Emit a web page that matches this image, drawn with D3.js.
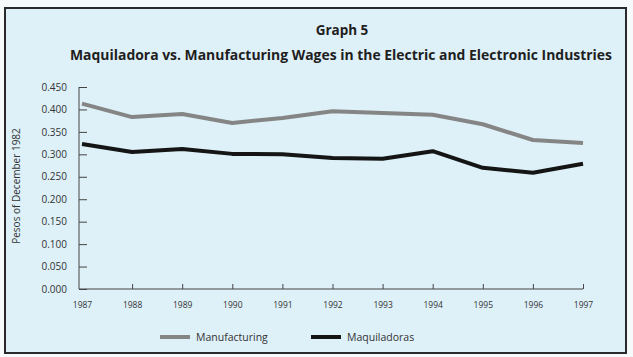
<!DOCTYPE html>
<html><head><meta charset="utf-8">
<script src="https://cdn.jsdelivr.net/npm/d3@7"></script>
<style>
html,body{margin:0;padding:0;background:#f6fafb;}
svg{display:block;}
</style></head>
<body>
<svg id="chart" width="633" height="357"></svg>
<script>
const years = [1987,1988,1989,1990,1991,1992,1993,1994,1995,1996,1997];
const manufacturing = [0.413,0.383,0.390,0.370,0.381,0.396,0.392,0.388,0.367,0.332,0.325];
const maquiladoras = [0.323,0.305,0.312,0.301,0.300,0.292,0.290,0.307,0.270,0.259,0.279];
const yTicks = [0,0.05,0.1,0.15,0.2,0.25,0.3,0.35,0.4,0.45];
const seriesNames = ["Manufacturing","Maquiladoras"];
const seriesColors = ["#858585","#151515"];
const titleText = "Graph 5";
const subtitleText = "Maquiladora vs. Manufacturing Wages in the Electric and Electronic Industries";
const yLabel = "Pesos of December 1982";

const svg = d3.select("#chart");
const font = "'Open Sans', 'Noto Sans', sans-serif";

// panel
svg.append("rect").attr("x",5).attr("y",8).attr("width",621).attr("height",345)
  .attr("fill","#def0f8").attr("stroke","#2a2a2a").attr("stroke-width",2);

svg.append("text").attr("x",342).attr("y",35).attr("text-anchor","middle")
  .attr("font-family",font).attr("font-weight",700).attr("font-size",13.5).attr("fill","#1e1e1e").text(titleText);
svg.append("text").attr("x",341).attr("y",60).attr("text-anchor","middle")
  .attr("font-family",font).attr("font-weight",700).attr("font-size",13.5).attr("fill","#1e1e1e")
  .attr("textLength",542).attr("lengthAdjust","spacingAndGlyphs").text(subtitleText);

const x = d3.scaleLinear().domain([1987,1997]).range([82,583]);
const y = d3.scaleLinear().domain([0,0.45]).range([289,87]);
const axisX0 = 79;

// y axis
const yAxis = d3.axisLeft(y).tickValues(yTicks).tickFormat(d3.format(".3f")).tickSize(-8).tickPadding(12);
const gy = svg.append("g").attr("transform",`translate(${axisX0},0)`).call(yAxis);
gy.select(".domain").attr("d",`M0,${y(0.45)}V${y(0)}`).attr("stroke","#444");
gy.selectAll(".tick line").attr("stroke","#444");
gy.selectAll(".tick text").attr("font-family",font).attr("font-size",10).attr("fill","#333");

// x axis
const xAxis = d3.axisBottom(x).tickValues(years).tickFormat(d3.format("d")).tickSize(-5).tickPadding(13);
const gx = svg.append("g").attr("transform",`translate(0,${y(0)})`).call(xAxis);
gx.select(".domain").attr("d",`M${axisX0},0H${x(1997)}`).attr("stroke","#444");
gx.selectAll(".tick line").attr("stroke","#444");
gx.selectAll(".tick").filter(d=>d===1987).select("line").remove();
gx.selectAll(".tick text").attr("font-family",font).attr("font-size",8.5).attr("fill","#333");

svg.append("text").attr("transform","translate(20,186) rotate(-90)").attr("text-anchor","middle")
  .attr("font-family",font).attr("font-size",10).attr("fill","#333").text(yLabel);

const line = d3.line().x((d,i)=>x(years[i])).y(d=>y(d));
[manufacturing, maquiladoras].forEach((s,i)=>{
  svg.append("path").datum(s).attr("d",line).attr("fill","none")
    .attr("stroke",seriesColors[i]).attr("stroke-width",4).attr("stroke-linejoin","round");
});

// legend
const legX = [160,311];
seriesNames.forEach((n,i)=>{
  svg.append("line").attr("x1",legX[i]).attr("x2",legX[i]+30).attr("y1",337).attr("y2",337)
    .attr("stroke",seriesColors[i]).attr("stroke-width",4);
  svg.append("text").attr("x",legX[i]+36).attr("y",341).attr("font-family",font).attr("font-size",10.5)
    .attr("fill","#333").text(n);
});
</script>
</body></html>
